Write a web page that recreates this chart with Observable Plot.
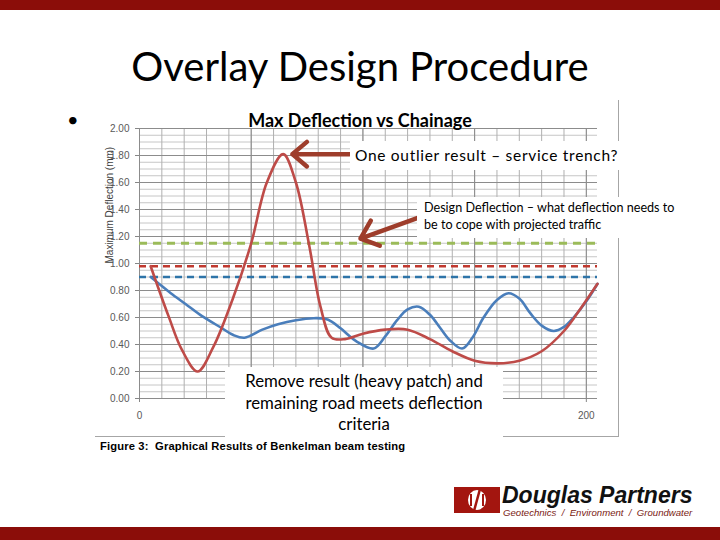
<!DOCTYPE html>
<html>
<head>
<meta charset="utf-8">
<script src="https://cdn.jsdelivr.net/npm/d3@7"></script>
<script src="https://cdn.jsdelivr.net/npm/@observablehq/plot@0.6"></script>
<style>
  body { margin: 0; }
  #slide { position: relative; width: 720px; height: 540px; overflow: hidden; background: #fff; font-family: Lato, "Open Sans", sans-serif; }
  .abs { position: absolute; }
  .box { position: absolute; background: #fff; color: #000; }
</style>
</head>
<body>
<div id="slide">
  <div class="abs" style="left:0;top:0;width:720px;height:10px;background:#8b0d09"></div>
  <div class="abs" style="left:0;top:527px;width:720px;height:13px;background:#8b0d09"></div>
  <div class="abs" id="title" style="left:0;top:39px;width:720px;text-align:center;font-size:40px;line-height:54px;color:#000">Overlay Design Procedure</div>
  <div class="abs" style="left:67px;top:106px;font-size:20px;line-height:26px;color:#000">•</div>
  <div class="abs" id="chart" style="left:95px;top:100px"></div>
  <div class="abs" id="ptitle" style="left:200px;top:109px;width:320px;text-align:center;font-weight:bold;font-size:18px;line-height:22px;color:#000">Max Deflection vs Chainage</div>
  <div class="abs" style="left:618px;top:100px;width:1px;height:337px;background:#a6a6a6"></div>
  <div class="abs" style="left:95px;top:436px;width:524px;height:1px;background:#a6a6a6"></div>
  <div class="abs" style="left:100px;top:439px;font-family:'Liberation Sans',Arial,sans-serif;font-weight:bold;font-size:11.2px;letter-spacing:0.15px;line-height:14px;color:#000;white-space:pre">Figure 3:  Graphical Results of Benkelman beam testing</div>
  <div class="box" style="left:350px;top:141px;width:275px;height:29px;font-size:15.5px;line-height:29px;padding-left:5px;box-sizing:border-box;letter-spacing:0.7px;white-space:nowrap">One outlier result – service trench?</div>
  <div class="box" style="left:417px;top:197px;width:268px;height:41px;font-size:12.6px;line-height:17px;padding:2px 0 0 7px;box-sizing:border-box;white-space:nowrap">Design Deflection – what deflection needs to<br>be to cope with projected traffic</div>
  <div class="box" style="left:225px;top:367px;width:278px;height:72px;font-size:16.8px;line-height:21.5px;padding-top:3px;box-sizing:border-box;text-align:center;white-space:nowrap">Remove result (heavy patch) and<br>remaining road meets deflection<br>criteria</div>
  <div class="abs" style="left:454px;top:487px;width:46px;height:26px;background:#a3150f"></div>
  <svg class="abs" style="left:454px;top:487px" width="46" height="26">
    <ellipse cx="23" cy="13" rx="9" ry="10" fill="#fff"/>
    <line x1="20" y1="24" x2="26" y2="2" stroke="#a3150f" stroke-width="2.5"/>
    <line x1="17" y1="7" x2="17" y2="19" stroke="#a3150f" stroke-width="2"/>
    <line x1="29" y1="7" x2="29" y2="19" stroke="#a3150f" stroke-width="2"/>
  </svg>
  <div class="abs" style="left:502px;top:484px;font-family:'Liberation Sans',Arial,sans-serif;font-weight:bold;font-style:italic;font-size:23px;line-height:22px;color:#111;white-space:nowrap">Douglas Partners</div>
  <div class="abs" style="left:503px;top:507px;font-family:'Liberation Sans',Arial,sans-serif;font-style:italic;font-size:9.6px;line-height:11px;color:#7a1a12;white-space:pre">Geotechnics  /  Environment  /  Groundwater</div>
</div>
<script>
// Data
const redChainage = [5, 13, 19, 26, 33, 42, 50, 57, 64.3, 70, 76, 81, 86, 92, 100, 110, 120, 130, 140, 150, 160, 170, 180, 190, 198, 205];
const redDeflection = [0.98, 0.61, 0.36, 0.20, 0.38, 0.75, 1.15, 1.60, 1.81, 1.60, 1.13, 0.68, 0.45, 0.44, 0.48, 0.51, 0.51, 0.44, 0.35, 0.28, 0.26, 0.28, 0.35, 0.50, 0.68, 0.85];
const blueChainage = [5, 8, 14, 20.6, 28, 37, 42, 47, 55, 62, 70, 78, 83, 86, 90, 97.4, 104.8, 110, 115.3, 120, 125, 130, 134.7, 139, 144.4, 149, 154, 160, 165.2, 170, 175, 180, 185.4, 190, 194.3, 200, 205];
const blueDeflection = [0.90, 0.86, 0.78, 0.70, 0.61, 0.52, 0.47, 0.45, 0.51, 0.55, 0.58, 0.595, 0.59, 0.57, 0.52, 0.42, 0.37, 0.46, 0.58, 0.66, 0.68, 0.62, 0.52, 0.43, 0.37, 0.45, 0.60, 0.73, 0.78, 0.74, 0.63, 0.54, 0.50, 0.53, 0.60, 0.72, 0.85];
const limitNames = ["Design deflection", "Red limit", "Blue limit"];
const limitValues = [1.15, 0.98, 0.90];
const limitColors = ["#9bbb59", "#c0392f", "#2e74a8"];
const yTicks = [0, 0.2, 0.4, 0.6, 0.8, 1.0, 1.2, 1.4, 1.6, 1.8, 2.0];
const xTicks = [0, 200];
const yLabel = "Maximum Deflection (mm)";

const red = redChainage.map((x, i) => ({x, y: redDeflection[i]}));
const blue = blueChainage.map((x, i) => ({x, y: blueDeflection[i]}));
const limits = limitValues.map((v, i) => ({name: limitNames[i], y: v, color: limitColors[i]}));
const arrows = [
  {x1: 94, y1: 1.81, x2: 68.4, y2: 1.81},
  {x1: 124.9, y1: 1.34, x2: 98.9, y2: 1.185}
];
const xMinor = d3.range(0, 206, 10);
const xMajor = d3.range(0, 206, 50);
const yMinor = d3.range(0, 2.001, 0.05);

const chart = Plot.plot({
  width: 525, height: 340,
  marginLeft: 44, marginRight: 23, marginTop: 28, marginBottom: 42,
  x: {domain: [0, 205]},
  y: {domain: [0, 2]},
  style: {fontFamily: "'Liberation Sans', Arial, sans-serif", fontSize: "10px", color: "#595959", background: "transparent", overflow: "visible"},
  marks: [
    Plot.ruleY(yMinor, {stroke: "#c6c6c6", strokeWidth: 1}),
    Plot.ruleX(xMinor, {stroke: "#b0b0b0", strokeWidth: 1}),
    Plot.ruleY(yTicks, {stroke: "#8c8c8c", strokeWidth: 1}),
    Plot.ruleX(xMajor, {stroke: "#8c8c8c", strokeWidth: 1}),
    Plot.axisY(yTicks, {tickFormat: d => d.toFixed(2), tickSize: 4, tickPadding: 6, label: null, stroke: "#868686"}),
    Plot.axisX(xTicks, {tickSize: 4, tickPadding: 9, label: null, stroke: "#868686"}),
    Plot.ruleY(limits.filter(d => d.name === "Design deflection"), {y: "y", stroke: "color", strokeWidth: 3.2, strokeDasharray: "8,6"}),
    Plot.ruleY(limits.filter(d => d.name !== "Design deflection"), {y: "y", stroke: "color", strokeWidth: 2.4, strokeDasharray: "7,5"}),
    Plot.line(blue, {x: "x", y: "y", curve: "catmull-rom", stroke: "#4a7ebb", strokeWidth: 2.6}),
    Plot.line(red, {x: "x", y: "y", curve: "catmull-rom", stroke: "#be4b48", strokeWidth: 2.6}),
    Plot.arrow(arrows, {x1: "x1", y1: "y1", x2: "x2", y2: "y2", stroke: "#9e3d2b", strokeWidth: 4.5, headLength: 12, headAngle: 80}),
    Plot.text([yLabel], {frameAnchor: "left", text: d => d, rotate: -90, dx: -30, fontSize: 10, fill: "#404040", lineAnchor: "middle"})
  ]
});
document.getElementById("chart").appendChild(chart);
</script>
</body>
</html>
